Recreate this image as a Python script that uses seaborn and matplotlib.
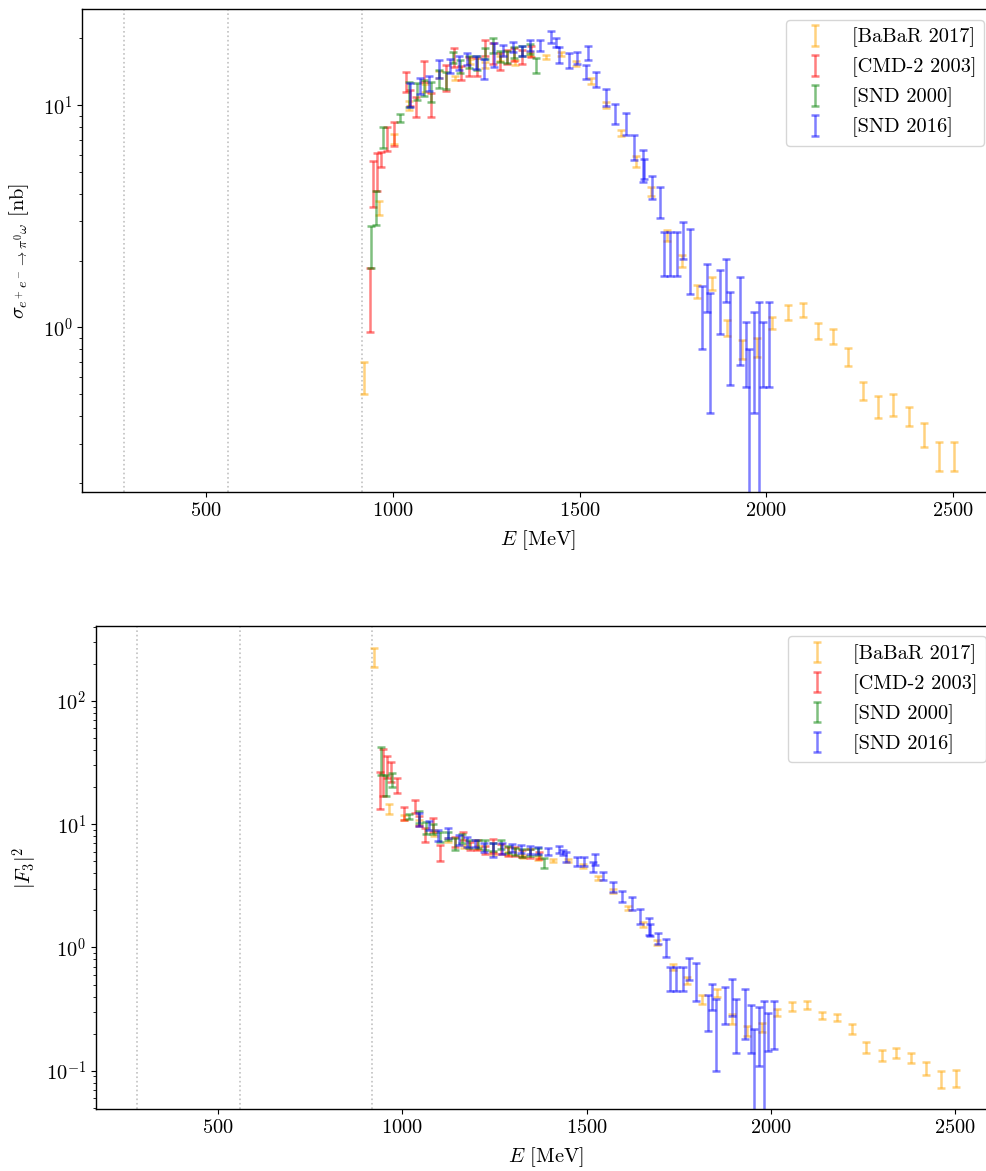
import numpy as np
import pandas as pd
import matplotlib
matplotlib.use("Agg")
import matplotlib.pyplot as plt
import seaborn as sns

# ---------------- data ----------------
thresholds = [279.14, 558.28, 917.6]

babar_E = [923, 963, 1004, 1044, 1085, 1125, 1166, 1206, 1247, 1287,
           1328, 1368, 1409, 1449, 1490, 1530, 1571, 1611, 1652, 1692,
           1733, 1773, 1814, 1854, 1895, 1935, 1976, 2016, 2057, 2097,
           2138, 2178, 2219, 2259, 2300, 2340, 2381, 2421, 2462, 2502]
babar_sig = [0.60, 3.45, 7.05, 10.0, 12.0, 13.8, 13.3, 15.7, 15.2, 16.3,
             15.6, 17.0, 16.5, 17.0, 15.5, 12.9, 10.0, 7.5, 5.6, 4.1,
             2.6, 2.0, 1.46, 1.58, 1.0, 0.80, 0.82, 1.05, 1.17, 1.20,
             0.97, 0.91, 0.74, 0.52, 0.44, 0.45, 0.40, 0.33, 0.265, 0.265]
babar_sig_err = [0.10, 0.25, 0.35, 0.5, 0.5, 0.5, 0.3, 0.4, 0.4, 0.4,
                 0.4, 0.4, 0.4, 0.4, 0.4, 0.4, 0.3, 0.25, 0.3, 0.2,
                 0.15, 0.13, 0.1, 0.1, 0.08, 0.08, 0.08, 0.07, 0.09, 0.09,
                 0.08, 0.07, 0.07, 0.05, 0.05, 0.05, 0.04, 0.04, 0.04, 0.04]
babar_F = [229, 13.3, 11.3, 10.4, 8.5, 7.5, 6.6, 6.5, 5.8, 5.8,
           5.5, 5.3, 5.1, 5.1, 4.6, 3.65, 2.87, 2.10, 1.54, 1.10,
           0.70, 0.536, 0.38, 0.43, 0.263, 0.21, 0.226, 0.298, 0.333, 0.34,
           0.281, 0.271, 0.220, 0.155, 0.134, 0.140, 0.128, 0.105, 0.0855, 0.0877]
babar_F_err = [39, 1.2, 0.55, 0.5, 0.4, 0.3, 0.2, 0.2, 0.2, 0.2,
               0.15, 0.15, 0.15, 0.15, 0.15, 0.12, 0.1, 0.08, 0.07, 0.06,
               0.04, 0.035, 0.03, 0.03, 0.025, 0.02, 0.02, 0.02, 0.025, 0.025,
               0.02, 0.018, 0.02, 0.015, 0.014, 0.014, 0.012, 0.012, 0.0135, 0.0135]

cmd2_E = [939, 948, 959, 968, 984, 1003, 1035, 1046, 1062, 1084, 1103,
          1143, 1164, 1183, 1203, 1225, 1247, 1268, 1287, 1305, 1325, 1345, 1370]
cmd2_sig = [1.40, 4.55, 5.1, 5.7, 7.1, 7.5, 12.8, 10.8, 9.9, 14.3, 10.1,
            13.4, 16.5, 14.0, 15.0, 15.0, 18.1, 17.2, 15.8, 16.5, 17.0, 16.5, 17.5]
cmd2_sig_err = [0.45, 1.05, 1.0, 0.45, 0.9, 0.95, 1.35, 0.9, 1.0, 1.5, 1.25,
                1.75, 1.65, 1.0, 1.5, 1.4, 1.5, 1.8, 1.4, 1.2, 1.1, 1.2, 1.0]
cmd2_F = [20.0, 29.0, 29.6, 27.0, 20.8, 12.3, 14.0, 10.7, 8.3, 9.9, 5.9,
          7.2, 8.0, 6.7, 6.8, 6.2, 6.7, 6.3, 6.0, 6.0, 5.8, 5.8, 5.6]
cmd2_F_err = [6.6, 12.0, 6.0, 5.0, 2.9, 1.5, 1.6, 1.0, 1.1, 1.3, 0.85,
              0.65, 0.6, 0.5, 0.6, 0.5, 0.9, 0.6, 0.5, 0.5, 0.4, 0.45, 0.4]

snd00_E = [941, 955, 973, 1018, 1044, 1064, 1083, 1102, 1124, 1143, 1162,
           1181, 1205, 1225, 1247, 1267, 1287, 1305, 1325, 1347, 1368, 1383]
snd00_sig = [2.35, 3.5, 7.2, 8.8, 11.3, 11.6, 12.0, 11.6, 13.2, 13.0, 16.4,
             15.0, 15.7, 15.5, 17.2, 18.6, 16.6, 16.5, 17.4, 17.6, 18.0, 15.1]
snd00_sig_err = [0.5, 0.6, 0.8, 0.35, 1.45, 1.0, 1.0, 1.2, 1.2, 1.2, 0.9,
                 1.0, 1.0, 1.1, 1.0, 1.4, 0.9, 1.0, 1.0, 0.9, 0.9, 1.15]
snd00_F = [33.8, 21.0, 23.0, 11.6, 11.5, 9.4, 9.2, 7.9, 8.0, 7.0, 7.7,
           6.9, 6.9, 6.8, 6.6, 6.9, 6.2, 6.0, 5.9, 5.9, 6.0, 4.85]
snd00_F_err = [8.7, 4.0, 2.9, 0.6, 1.3, 1.0, 0.8, 0.7, 0.6, 0.8, 0.6,
               0.5, 0.5, 0.6, 0.5, 0.6, 0.4, 0.4, 0.45, 0.4, 0.4, 0.45]

snd16_E = [1046, 1073, 1096, 1124, 1153, 1176, 1198, 1222, 1245, 1271,
           1296, 1322, 1345, 1368, 1395, 1424, 1437, 1445, 1473, 1493,
           1518, 1522, 1543, 1571, 1595, 1624, 1645, 1670, 1672, 1694,
           1716, 1725, 1741, 1761, 1777, 1796, 1828, 1841, 1850, 1875,
           1893, 1904, 1930, 1946, 1955, 1968, 1980, 1991, 2008]
snd16_sig = [11.2, 12.3, 12.6, 14.6, 15.1, 15.5, 16.2, 15.6, 14.6, 17.0,
             17.6, 18.3, 17.6, 18.6, 18.6, 20.4, 19.2, 16.9, 15.9, 16.4,
             14.2, 17.2, 13.1, 10.9, 9.2, 8.3, 6.5, 5.4, 5.2, 4.3,
             3.7, 2.2, 2.2, 2.2, 2.5, 2.1, 1.17, 1.55, 0.92, 1.37,
             1.67, 1.0, 1.18, 0.8, 0.45, 0.79, 0.7, 0.8, 0.92]
snd16_sig_err = [1.4, 1.0, 1.0, 1.35, 1.1, 1.1, 1.0, 1.1, 1.5, 2.1,
                 1.0, 0.9, 0.9, 1.0, 1.0, 1.3, 0.8, 1.45, 1.25, 1.0,
                 1.0, 1.25, 1.0, 1.0, 0.95, 0.95, 0.85, 0.9, 0.55, 0.5,
                 0.6, 0.5, 0.5, 0.5, 0.47, 0.68, 0.37, 0.38, 0.51, 0.44,
                 0.37, 0.45, 0.5, 0.26, 0.35, 0.38, 0.6, 0.26, 0.38]
snd16_F = [11.0, 9.8, 8.1, 8.5, 7.5, 7.2, 7.0, 6.5, 6.2, 6.4,
           6.4, 6.3, 6.2, 6.1, 6.0, 6.2, 5.9, 5.4, 5.0, 5.0,
           4.5, 5.2, 3.8, 3.1, 2.6, 2.3, 1.8, 1.5, 1.4, 1.18,
           1.0, 0.57, 0.57, 0.57, 0.68, 0.56, 0.31, 0.41, 0.24, 0.36,
           0.42, 0.26, 0.32, 0.24, 0.13, 0.22, 0.2, 0.22, 0.26]
snd16_F_err = [1.4, 0.8, 0.8, 0.8, 0.7, 0.7, 0.5, 0.6, 0.8, 0.7,
               0.5, 0.5, 0.45, 0.4, 0.4, 0.4, 0.25, 0.5, 0.45, 0.4,
               0.4, 0.5, 0.3, 0.3, 0.25, 0.28, 0.25, 0.24, 0.15, 0.12,
               0.17, 0.13, 0.13, 0.13, 0.14, 0.19, 0.1, 0.1, 0.14, 0.12,
               0.14, 0.12, 0.14, 0.1, 0.09, 0.11, 0.165, 0.075, 0.11]

labels = ["[BaBaR 2017]", "[CMD-2 2003]", "[SND 2000]", "[SND 2016]"]
colors = ["orange", "red", "green", "blue"]

# ---------------- style ----------------
sns.set_theme(style="ticks")
FS = 14.7
plt.rcParams.update({
    "font.family": "serif",
    "font.serif": ["cmr10", "DejaVu Serif"],
    "mathtext.fontset": "cm",
    "axes.formatter.use_mathtext": True,
    "axes.unicode_minus": False,
    "font.size": FS,
    "axes.labelsize": FS,
    "xtick.labelsize": FS,
    "ytick.labelsize": FS,
    "legend.fontsize": FS,
    "axes.edgecolor": "black",
    "axes.linewidth": 1.0,
    "xtick.color": "black",
    "ytick.color": "black",
    "text.color": "black",
    "axes.labelcolor": "black",
    "xtick.major.size": 3.5,
    "ytick.major.size": 3.5,
    "xtick.minor.size": 2,
    "ytick.minor.size": 2,
    "xtick.major.width": 0.8,
    "ytick.major.width": 0.8,
    "ytick.minor.width": 0.6,
})

W, H = 986, 1171
fig = plt.figure(figsize=(W / 100, H / 100), dpi=100)

ax1 = fig.add_axes([82.1 / W, 1 - 492 / H, (994.5 - 82.1) / W, (492 - 9.3) / H])
ax2 = fig.add_axes([95.8 / W, 1 - 1109 / H, (996.2 - 95.8) / W, (1109 - 626) / H])

datasets_top = [
    (babar_E, babar_sig, babar_sig_err),
    (cmd2_E, cmd2_sig, cmd2_sig_err),
    (snd00_E, snd00_sig, snd00_sig_err),
    (snd16_E, snd16_sig, snd16_sig_err),
]
datasets_bot = [
    (babar_E, babar_F, babar_F_err),
    (cmd2_E, cmd2_F, cmd2_F_err),
    (snd00_E, snd00_F, snd00_F_err),
    (snd16_E, snd16_F, snd16_F_err),
]

for ax, sets in [(ax1, datasets_top), (ax2, datasets_bot)]:
    for t in thresholds:
        ax.axvline(t, color="0.6", ls=":", lw=1.2, alpha=0.6, zorder=0)
    for (E, v, e), lab, c in zip(sets, labels, colors):
        df = pd.DataFrame({"E": E, "v": v, "e": e})
        ax.errorbar(df["E"], df["v"], yerr=df["e"], fmt="none", ecolor=c,
                    alpha=0.5, elinewidth=1.8, capsize=3, capthick=1.8,
                    label=lab)
    ax.set_yscale("log")
    ax.set_xlim(168.1, 2611)
    ax.set_xticks([500, 1000, 1500, 2000, 2500])
    ax.set_xlabel(r"$E$ [MeV]", labelpad=6)
    ax.legend(loc="upper right", frameon=True, fancybox=True,
              framealpha=0.8, edgecolor="0.8", handlelength=2.0,
              borderaxespad=0.5)
    for s in ax.spines.values():
        s.set_visible(True)

ax1.set_ylim(0.1817, 27.06)
ax2.set_ylim(0.0489, 406)
ax1.set_ylabel(r"$\sigma_{e^+e^-\to\pi^0\omega}$ [nb]", labelpad=8)
ax2.set_ylabel(r"$|F_3|^2$")

fig.savefig("out.png", dpi=100)
